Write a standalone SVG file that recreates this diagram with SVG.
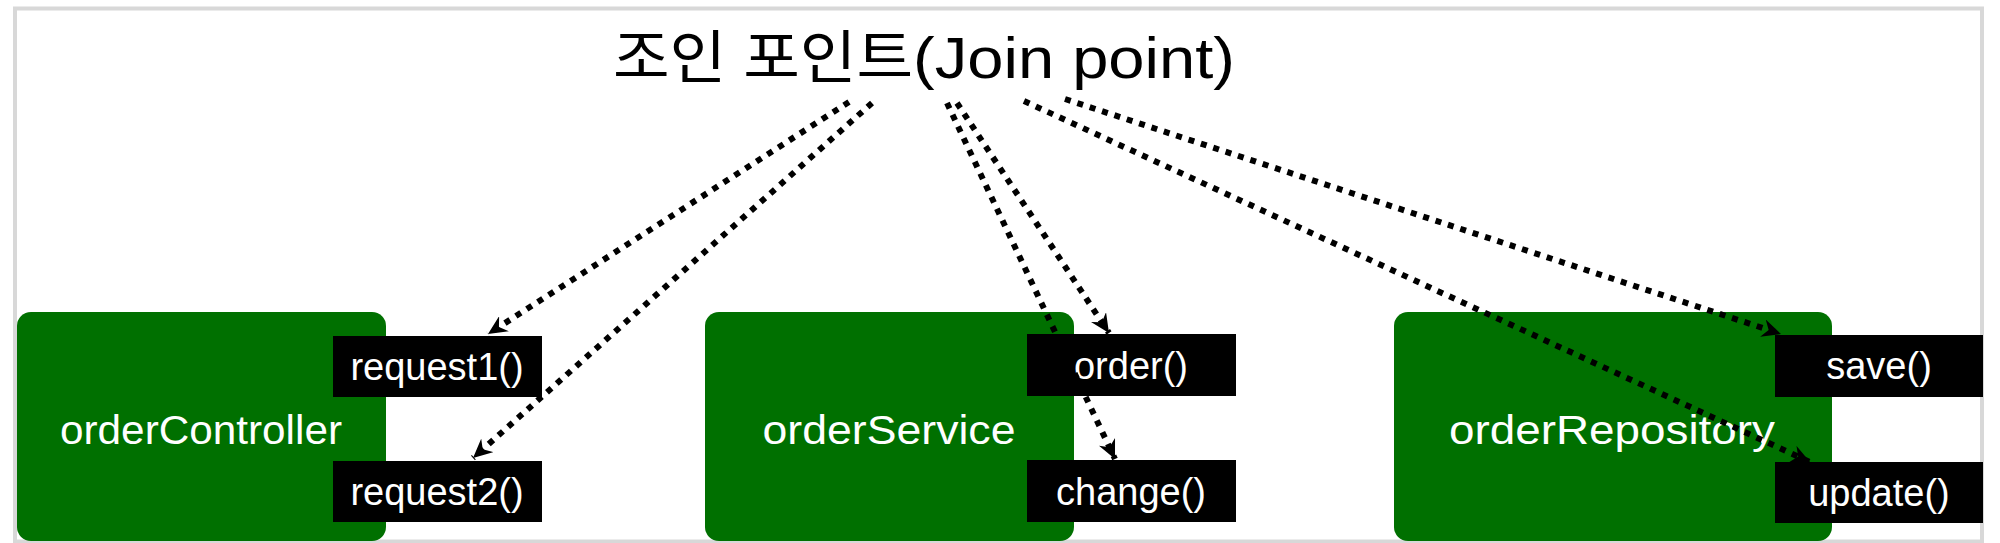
<svg xmlns="http://www.w3.org/2000/svg" width="2000" height="543" viewBox="0 0 2000 543">
<style>
.frame{fill:#fff;stroke:#d8d8d8;stroke-width:4}
.comp{fill:#007000}
.meth{fill:#000}
.title{font-family:"Liberation Sans","Noto Sans CJK KR",sans-serif;font-size:58px;fill:#000}
.nlabel{font-family:"Liberation Sans",Arial,sans-serif;font-size:40px;fill:#fff;text-anchor:middle}
.mlabel{font-family:"Liberation Sans",Arial,sans-serif;font-size:38px;fill:#fff;text-anchor:middle}
.conn{fill:none;stroke:#000;stroke-width:6;stroke-dasharray:6 7;marker-end:url(#arr)}
</style>
<defs>
<marker id="arr" markerUnits="userSpaceOnUse" viewBox="0 0 20 18" markerWidth="20" markerHeight="18" refX="19" refY="9" orient="auto">
<path d="M0,0 L19,9 L0,18 L6,9 Z" fill="#000"/>
</marker>
</defs>
<rect class="frame" x="15" y="8.5" width="1967" height="533"/>
<g id="title">
<text class="title" x="613" y="78"><tspan textLength="300" lengthAdjust="spacingAndGlyphs">조인 포인트</tspan><tspan x="913" textLength="322" lengthAdjust="spacingAndGlyphs">(Join point)</tspan></text>
</g>
<g id="orderController">
<rect class="comp" x="17" y="312" width="369" height="229" rx="14"/>
<text class="nlabel" x="201" y="444" textLength="282" lengthAdjust="spacingAndGlyphs">orderController</text>
</g>
<g id="request1">
<rect class="meth" x="333" y="336" width="209" height="61"/>
<text class="mlabel" x="437" y="380">request1()</text>
</g>
<g id="request2">
<rect class="meth" x="333" y="461" width="209" height="61"/>
<text class="mlabel" x="437" y="505">request2()</text>
</g>
<g id="orderService">
<rect class="comp" x="705" y="312" width="369" height="229" rx="14"/>
<text class="nlabel" x="889" y="444" textLength="253" lengthAdjust="spacingAndGlyphs">orderService</text>
</g>
<g id="order">
<rect class="meth" x="1027" y="334" width="209" height="62"/>
<text class="mlabel" x="1131" y="379">order()</text>
</g>
<g id="change">
<rect class="meth" x="1027" y="460" width="209" height="62"/>
<text class="mlabel" x="1131" y="505">change()</text>
</g>
<g id="orderRepository">
<rect class="comp" x="1394" y="312" width="438" height="229" rx="14"/>
<text class="nlabel" x="1612" y="444" textLength="326" lengthAdjust="spacingAndGlyphs">orderRepository</text>
</g>
<g id="save">
<rect class="meth" x="1775" y="335" width="208" height="62"/>
<text class="mlabel" x="1879" y="379">save()</text>
</g>
<g id="update">
<rect class="meth" x="1775" y="462" width="208" height="61"/>
<text class="mlabel" x="1879" y="506">update()</text>
</g>
<g id="connectors">
<path class="conn" d="M849,102 L488,334"/>
<path class="conn" d="M872,103 L473,458"/>
<path class="conn" d="M957,103 L1109,333"/>
<path class="conn" d="M947,103 L1115,459"/>
<path class="conn" d="M1024,101 L1810,462"/>
<path class="conn" d="M1065,99 L1781,334"/>
</g>
</svg>
